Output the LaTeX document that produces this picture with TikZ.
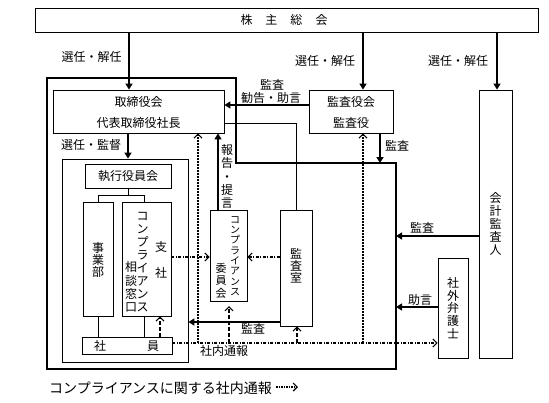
\documentclass[tikz,border=0pt]{standalone}
\usepackage{fontspec}
\setmainfont{Noto Sans CJK JP}
\usetikzlibrary{arrows.meta}
\begin{document}
\begin{tikzpicture}[x=1pt,y=-1pt,
  bx/.style={draw, line width=0.8pt, inner sep=0pt, anchor=center},
  tx/.style={inner sep=0pt, font=\fontsize{12}{13}\selectfont},
  vt/.style={inner sep=0pt, align=center},
  sarr/.style={line width=2pt, -{Triangle[length=6pt,width=7pt]}},
  thinln/.style={line width=0.8pt},
  oarr/.style={-{Straight Barb[length=4pt,width=8pt,line width=1.1pt]}},
  dshh/.style={line width=1.3pt, dash pattern=on 3pt off 1.5pt on 1pt off 1.5pt},
  dotv/.style={line width=1.5pt, dash pattern=on 2pt off 1pt},
  dshv/.style={line width=1.3pt, dash pattern=on 4pt off 2pt},
  border/.style={line width=2.5pt}]
\useasboundingbox (0,0) rectangle (549,402);

% boxes
\node[bx, minimum width=503pt, minimum height=24pt] (soukai) at (286.5,20) {};
\node[bx, minimum width=171pt, minimum height=43pt] (tori) at (138.5,111.5) {};
\node[bx, minimum width=84pt, minimum height=43pt] (kansayaku) at (351,111.5) {};
\node[bx, minimum width=33pt, minimum height=268pt] (kaikei) at (495.5,224) {};
\node[bx, minimum width=30pt, minimum height=100pt] (bengo) at (453,308) {};
\node[bx, minimum width=32pt, minimum height=116pt] (kshitsu) at (296,268) {};
\node[bx, minimum width=37pt, minimum height=91pt] (iinkai) at (228.5,255.5) {};
\node[bx, minimum width=126pt, minimum height=203pt] (shikkou) at (125,260.5) {};
\node[bx, minimum width=86pt, minimum height=24pt] (yakuin) at (128,176) {};
\node[bx, minimum width=30pt, minimum height=114pt] (jigyou) at (98,259) {};
\node[bx, minimum width=49pt, minimum height=114pt] (shisha) at (146.5,259) {};
\node[bx, minimum width=90pt, minimum height=17pt] (shain) at (127,345.5) {};

% company border
\coordinate (b1) at (47,78);
\coordinate (b2) at (236,78);
\coordinate (b3) at (236,163);
\coordinate (b4) at (396,163);
\coordinate (b5) at (396,369);
\coordinate (b6) at (47,369);
\draw[border] (b1) -- (b2) -- (b3) -- (b4) -- (b5) -- (b6) -- cycle;

% helper coordinates
\coordinate (xA) at (129,0);
\coordinate (xB) at (363,0);
\coordinate (xC) at (497,0);
\coordinate (yD) at (0,105);
\coordinate (xE) at (128,0);
\coordinate (yF) at (0,123);
\coordinate (xG) at (218,0);
\coordinate (xH) at (198,0);
\coordinate (xI) at (380,0);
\coordinate (yJ) at (0,236);
\coordinate (yK) at (0,307);
\coordinate (yL) at (0,322);
\coordinate (yM) at (0,257);
\coordinate (xN) at (160,0);
\coordinate (xO) at (229,0);
\coordinate (xP) at (297,0);
\coordinate (yQ) at (0,343);
\coordinate (iinkaiTip) at (229,306);

% solid arrows
\draw[sarr] (soukai.south -| xA) -- (tori.north -| xA);
\draw[sarr] (soukai.south -| xB) -- (kansayaku.north -| xB);
\draw[sarr] (soukai.south -| xC) -- (kaikei.north -| xC);
\draw[sarr] (kansayaku.west |- yD) -- (tori.east |- yD);
\draw[sarr] (tori.south -| xE) -- (shikkou.north -| xE);
\draw[sarr] (iinkai.north -| xG) -- (tori.south -| xG);
\draw[sarr] (kansayaku.south -| xI) -- (b3 -| xI);
\draw[sarr] (kaikei.west |- yJ) -- (b4 |- yJ);
\draw[sarr] (bengo.west |- yK) -- (b4 |- yK);
\draw[sarr] (kshitsu.west |- yL) -- (shikkou.east |- yL);

% thin lines
\draw[thinln] (tori.east |- yF) -| (kshitsu.north);
\draw[thinln] (yakuin.south) -- ++(0,7) coordinate (tj);
\coordinate (xS) at (144,0);
\draw[thinln] (tj -| jigyou.north) -- (tj -| xS);
\draw[thinln] (tj -| jigyou.north) -- (jigyou.north);
\draw[thinln] (tj -| xS) -- (shisha.north -| xS);
\draw[thinln] (jigyou.south) -- (shain.north -| jigyou.south);
\draw[thinln] (shisha.south -| xS) -- (shain.north -| xS);

% reporting lines (dashed)
\draw[dshh, oarr] (shain.east |- yQ) -- (bengo.west |- yQ);
\draw[dotv, oarr] (xH |- yQ) -- (tori.south -| xH);
\draw[dotv, oarr] (xB |- yQ) -- (kansayaku.south -| xB);
\draw[dshh, oarr] (shisha.east |- yM) -- (iinkai.west |- yM);
\draw[dshh, oarr] (kshitsu.west |- yM) -- (iinkai.east |- yM);
\draw[dshv, oarr] (shain.north -| xN) -- (shisha.south -| xN);
\draw[dshv, oarr] (xO |- yQ) -- (iinkaiTip);
\draw[dshv, oarr] (xP |- yQ) -- (kshitsu.south -| xP);

% texts
\node[tx] (tSoukai) at (284,20) {株\hspace{13pt}主\hspace{13pt}総\hspace{13pt}会};
\node[tx] (tSen1) at (91.5,57) {選任・解任};
\node[tx] (tSen2) at (325,61) {選任・解任};
\node[tx] (tSen3) at (458,61) {選任・解任};
\node[tx] (tTori1) at (138.5,102) {取締役会};
\node[tx] (tTori2) at (138.5,123) {代表取締役社長};
\node[tx] (tKy1) at (351,102) {監査役会};
\node[tx] (tKy2) at (351,123) {監査役};
\node[tx] (tKansa1) at (272,85) {監査};
\node[tx] (tKankoku) at (271,98) {勧告・助言};
\node[tx] (tSenKan) at (91,145) {選任・監督};
\node[tx] (tYakuin) at (128,176) {執行役員会};
\node[tx] (tKansa2) at (397,146) {監査};
\node[tx] (tKansa3) at (422,228) {監査};
\node[tx] (tJogen) at (420,300) {助言};
\node[tx] (tKansa4) at (253,329) {監査};
\node[tx] (tTsuuhou) at (224,351) {社内通報};
\node[tx] (tSha) at (100,346) {社};
\node[tx] (tIn) at (153,346) {員};

% vertical texts
\node[vt, font=\fontsize{12}{12.9}\selectfont] (vKaikei) at (495.5,224) {会\\計\\監\\査\\人};
\node[vt, font=\fontsize{12}{12.6}\selectfont] (vBengo) at (453,308) {社\\外\\弁\\護\\士};
\node[vt, font=\fontsize{12}{12}\selectfont] (vKshitsu) at (296,266) {監\\査\\室};
\node[vt, font=\fontsize{12}{12}\selectfont] (vJigyou) at (98,260) {事\\業\\部};
\node[vt, font=\fontsize{12}{13.2}\selectfont] (vHoukoku) at (227,176.5) {報\\告\\・\\提\\言};
\node[vt, font=\fontsize{10}{10.3}\selectfont] (vIin1) at (235,256) {コ\\ン\\プ\\ラ\\イ\\ア\\ン\\ス};
\node[vt, font=\fontsize{11}{12.5}\selectfont] (vIin2) at (221,280.5) {委\\員\\会};
\node[vt, font=\fontsize{12}{26}\selectfont] (vShisha1) at (161,260) {支\\社};
\node[vt, font=\fontsize{12}{12.9}\selectfont] (vShisha2) at (142.5,262) {コ\\ン\\プ\\ラ\\イ\\ア\\ン\\ス};
\node[vt, font=\fontsize{12}{13.3}\selectfont] (vShisha3) at (131,287) {相\\談\\窓\\口};

% legend
\node[inner sep=0pt, anchor=west, font=\fontsize{14}{16}\selectfont] (legend) at (49,388) {コンプライアンスに関する社内通報};
\coordinate (lg) at (298,387);
\draw[line width=1.2pt, dash pattern=on 1.5pt off 1pt, oarr] (legend.east |- lg) ++(4,0) -- (lg);
\end{tikzpicture}
\end{document}
